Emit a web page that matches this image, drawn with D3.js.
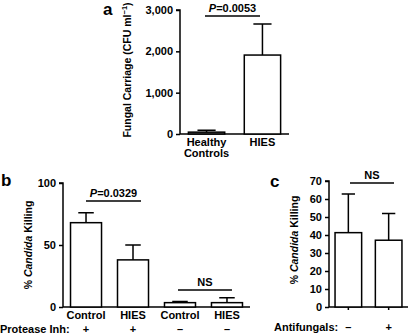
<!DOCTYPE html>
<html>
<head>
<meta charset="utf-8">
<script src="https://cdn.jsdelivr.net/npm/d3@7"></script>
<style>
  body { margin: 0; background: #fff; }
  svg text { font-family: "Liberation Sans", Arial, sans-serif; font-weight: bold; fill: #000; }
  .axis path, .axis line { stroke: #000; stroke-width: 1.5; }
  .axis text { font-size: 11px; }
  .bar { fill: #fff; stroke: #000; stroke-width: 1.5; }
  .err { stroke: #000; stroke-width: 1.5; fill: none; }
</style>
</head>
<body>
<div class="container"></div>
<script>
const WIDTH = 411;
const HEIGHT = 334;

// panel a
var aCategories = ["Healthy\nControls", "HIES"];
var aValues = [45, 1910];
var aErrors = [90, 2660];
var aTicks = [0, 1000, 2000, 3000];

// panel b
var bCategories = ["Control", "HIES", "Control ", "HIES "];
var bValues = [68, 38, 3.5, 3.5];
var bErrors = [76, 50, 4.5, 7.5];
var bTicks = [0, 50, 100];
var bProtease = ["+", "+", "\u2013", "\u2013"];

// panel c
var cCategories = ["-", "+"];
var cValues = [41.3, 37.1];
var cErrors = [62.8, 52];
var cTicks = [0, 10, 20, 30, 40, 50, 60, 70];
var cAntifungals = ["\u2013", "+"];

var translate = function(x, y) {
    return `translate(${x},${y})`;
};

var svg = d3.select('.container').append('svg')
    .attr('width', WIDTH)
    .attr('height', HEIGHT);

var sigLine = function(g, x1, x2, y, p) {
    g.append('path').classed('err', true).attr('d', `M${x1},${y}H${x2}`);
    var st = g.append('text').attr('text-anchor', 'middle').attr('font-size', 11)
        .attr('x', (x1 + x2) / 2).attr('y', y - 4);
    if (p) {
        st.append('tspan').attr('font-style', 'italic').text('P');
        st.append('tspan').text(p);
    } else {
        st.text('NS');
    }
};

var drawPanel = function(opt) {
    var g = svg.append('g');
    var xScale = d3.scaleBand()
        .domain(opt.categories)
        .range(opt.xRange)
        .paddingInner(opt.padIn)
        .paddingOuter(opt.padOut);
    var yScale = d3.scaleLinear()
        .domain(opt.yDomain)
        .range(opt.yRange);

    var yAxis = d3.axisLeft(yScale).tickValues(opt.ticks).tickSize(4).tickPadding(3)
        .tickFormat(opt.format || d3.format('d'));
    g.append('g')
        .classed('axis', true)
        .attr('transform', translate(opt.xRange[0], 0))
        .call(yAxis)
        .call(s => s.select('.domain').attr('d', `M-4,${opt.yRange[1]}H0V${opt.yRange[0]}`));

    var xAxis = d3.axisBottom(xScale).tickSize(opt.xTick || 0).tickFormat('');
    g.append('g')
        .classed('axis', true)
        .attr('transform', translate(0, opt.yRange[0]))
        .call(xAxis)
        .call(s => s.select('.domain').attr('d', `M${opt.xRange[0]},0H${opt.xRange[1]}`));

    // error bars (upper only)
    var bw = xScale.bandwidth();
    opt.categories.forEach(function(c, i) {
        var cx = xScale(c) + bw / 2;
        g.append('path').classed('err', true)
            .attr('d', `M${cx},${yScale(opt.values[i])}V${yScale(opt.errors[i])}M${cx - bw / 4},${yScale(opt.errors[i])}H${cx + bw / 4}`);
    });

    g.selectAll('rect').data(opt.values).enter()
        .append('rect')
        .classed('bar', true)
        .attr('x', (d, i) => xScale(opt.categories[i]))
        .attr('width', bw)
        .attr('y', (d) => yScale(d))
        .attr('height', (d) => yScale(0) - yScale(d));

    // category labels
    if (opt.showLabels) {
        opt.categories.forEach(function(c, i) {
            var lines = c.trim().split('\n');
            var t = g.append('text')
                .attr('text-anchor', 'middle')
                .attr('font-size', 11)
                .attr('x', xScale(c) + bw / 2)
                .attr('y', opt.yRange[0] + 12);
            lines.forEach(function(l, j) {
                t.append('tspan').attr('x', xScale(c) + bw / 2).attr('dy', j === 0 ? 0 : 11).text(l);
            });
        });
    }

    // y title
    var yt = g.append('text')
        .attr('text-anchor', 'middle')
        .attr('font-size', 10.5)
        .attr('transform', translate(opt.titleX, opt.titleY) + ' rotate(-90)');
    opt.title(yt);

    // panel letter
    svg.append('text').attr('x', opt.letter[1]).attr('y', opt.letter[2])
        .attr('font-size', 17).text(opt.letter[0]);

    return {g: g, xScale: xScale, mid: (i) => xScale(opt.categories[i]) + bw / 2};
};

var candidaTitle = function(t) {
    t.append('tspan').text('% ');
    t.append('tspan').attr('font-style', 'italic').text('Candida');
    t.append('tspan').text(' Killing');
};

var pa = drawPanel({
    categories: aCategories, values: aValues, errors: aErrors, ticks: aTicks,
    xRange: [180, 289], padIn: 0.35, padOut: 0.15,
    yDomain: [0, 3000], yRange: [134, 10],
    format: d3.format(','), showLabels: true,
    titleX: 131, titleY: 70,
    title: function(t) {
        t.append('tspan').text('Fungal Carriage (CFU ml');
        t.append('tspan').attr('font-size', 7.5).attr('dy', -4).text('\u22121');
        t.append('tspan').attr('dy', 4).text(')');
    },
    letter: ['a', 103, 15]
});
// healthy controls bar is drawn from a tiny value: bar reads as grey
pa.g.select('rect').style('fill', '#777');
sigLine(pa.g, 205, 260, 16, '=0.0053');

var pb = drawPanel({
    categories: bCategories, values: bValues, errors: bErrors, ticks: bTicks,
    xRange: [63, 250], padIn: 0.34, padOut: 0.16,
    yDomain: [0, 100], yRange: [307, 183],
    showLabels: true,
    titleX: 32, titleY: 245,
    title: candidaTitle,
    letter: ['b', 1, 186]
});
sigLine(pb.g, 86, 141, 201, '=0.0329');
sigLine(pb.g, pb.mid(2) - 2, pb.mid(3) + 5, 290, null);
pb.g.append('text').attr('x', 0).attr('y', 333).attr('font-size', 11).text('Protease Inh:');
bProtease.forEach(function(p, i) {
    pb.g.append('text').attr('text-anchor', 'middle').attr('font-size', 11)
        .attr('x', pb.mid(i)).attr('y', 333).text(p);
});

var pc = drawPanel({
    categories: cCategories, values: cValues, errors: cErrors, ticks: cTicks,
    xRange: [329, 408], padIn: 0.34, padOut: 0.15, xTick: 3,
    yDomain: [0, 70], yRange: [307, 181],
    showLabels: false,
    titleX: 298, titleY: 240,
    title: candidaTitle,
    letter: ['c', 270, 187]
});
sigLine(pc.g, 350, 394, 183, null);
pc.g.append('text').attr('x', 274).attr('y', 331).attr('font-size', 11).text('Antifungals:');
cAntifungals.forEach(function(p, i) {
    pc.g.append('text').attr('text-anchor', 'middle').attr('font-size', 11)
        .attr('x', pc.mid(i)).attr('y', 331).text(p);
});
</script>
</body>
</html>
